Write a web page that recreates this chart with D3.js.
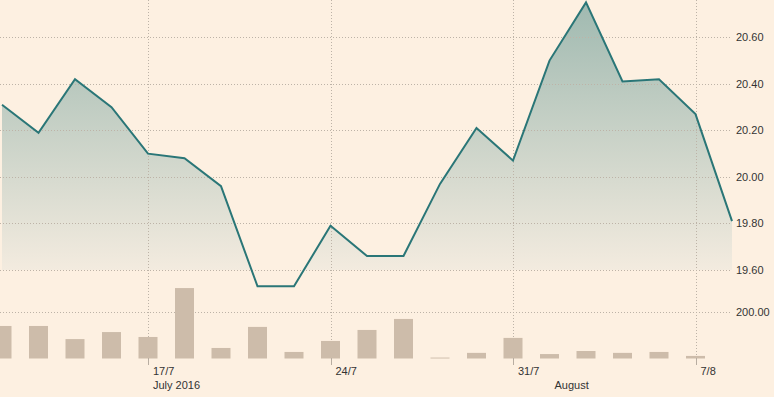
<!DOCTYPE html>
<html>
<head>
<meta charset="utf-8">
<script src="https://cdn.jsdelivr.net/npm/d3@7"></script>
<style>
  body { margin: 0; background: #fdf0e1; }
  svg { display: block; }
  text { font-family: "Liberation Sans", Arial, sans-serif; font-size: 11px; fill: #333; }
</style>
</head>
<body>
<svg id="chart" width="774" height="397"></svg>
<script>
// trading days (Sun-Thu)
var dates = ['11/7', '12/7', '13/7', '14/7', '17/7', '18/7', '19/7', '20/7', '21/7',
    '24/7', '25/7', '26/7', '27/7', '28/7', '31/7', '1/8', '2/8', '3/8', '4/8', '7/8', '8/8'];
var prices = [20.31, 20.19, 20.42, 20.30, 20.10, 20.08, 19.96, 19.53, 19.53,
    19.79, 19.66, 19.66, 19.97, 20.21, 20.07, 20.50, 20.75, 20.41, 20.42, 20.27, 19.81];
var volumes = [139, 139, 83, 113, 92, 301, 45, 135, 28, 75, 122, 169, 4, 24, 88, 19, 32, 24, 28, 11, 0];
var priceTicks = [19.6, 19.8, 20.0, 20.2, 20.4, 20.6];
var volumeTicks = [200];
var dateTicks = ['17/7', '24/7', '31/7', '7/8'];
var monthLabels = [{ date: '17/7', text: 'July 2016' }, { date: '1/8', text: 'August' }];

var width = 774, height = 397;
var plotRight = 732;
var priceBottom = 270;

var svg = d3.select('#chart');

var x = d3.scalePoint().domain(dates).range([2, plotRight]);
var y = d3.scaleLinear().domain([19.6, 20.6]).range([priceBottom, 37.3]);
var yVol = d3.scaleLinear().domain([0, 200]).range([358.5, 311.7]);

// gradient for area fill
var defs = svg.append('defs');
var grad = defs.append('linearGradient')
    .attr('id', 'areaGrad')
    .attr('gradientUnits', 'userSpaceOnUse')
    .attr('x1', 0).attr('x2', 0)
    .attr('y1', 0).attr('y2', priceBottom);
grad.append('stop').attr('offset', '0%').attr('stop-color', '#9fb9b0');
grad.append('stop').attr('offset', '100%').attr('stop-color', '#f3ebdf');

defs.append('clipPath')
    .attr('id', 'priceClip')
    .append('rect')
    .attr('x', 0).attr('y', 0)
    .attr('width', plotRight).attr('height', priceBottom);

var area = d3.area()
    .x(function(d, i) { return x(dates[i]); })
    .y0(priceBottom)
    .y1(function(d) { return y(d); });

svg.append('path')
    .datum(prices)
    .attr('d', area)
    .attr('clip-path', 'url(#priceClip)')
    .attr('fill', 'url(#areaGrad)');

// horizontal gridlines
svg.append('g').selectAll('line')
    .data(priceTicks)
    .join('line')
    .attr('x1', 0).attr('x2', plotRight)
    .attr('y1', d => Math.round(y(d)) + 0.5)
    .attr('y2', d => Math.round(y(d)) + 0.5)
    .attr('stroke', '#bdb3a7')
    .attr('stroke-dasharray', '1,2');
svg.append('g').selectAll('line')
    .data(volumeTicks)
    .join('line')
    .attr('x1', 0).attr('x2', plotRight)
    .attr('y1', d => Math.round(yVol(d)) + 0.5)
    .attr('y2', d => Math.round(yVol(d)) + 0.5)
    .attr('stroke', '#bdb3a7')
    .attr('stroke-dasharray', '1,2');

// vertical gridlines
svg.append('g').selectAll('line')
    .data(dateTicks)
    .join('line')
    .attr('x1', d => Math.round(x(d)) + 0.5)
    .attr('x2', d => Math.round(x(d)) + 0.5)
    .attr('y1', 0).attr('y2', 358)
    .attr('stroke', '#bdb3a7')
    .attr('stroke-dasharray', '1,2');

// volume bars
var barW = 19;
svg.append('g').selectAll('rect')
    .data(volumes)
    .join('rect')
    .attr('x', (d, i) => x(dates[i]) - barW / 2)
    .attr('y', d => yVol(d))
    .attr('width', barW)
    .attr('height', d => yVol(0) - yVol(d))
    .attr('fill', '#cdbcaa');

// price line
var line = d3.line()
    .x(function(d, i) { return x(dates[i]); })
    .y(function(d) { return y(d); });

svg.append('path')
    .datum(prices)
    .attr('d', line)
    .attr('fill', 'none')
    .attr('stroke', '#2a7677')
    .attr('stroke-width', 2)
    .attr('stroke-linejoin', 'miter');

// x ticks below baseline
svg.append('g').selectAll('line')
    .data(dateTicks)
    .join('line')
    .attr('x1', d => Math.round(x(d)) + 0.5)
    .attr('x2', d => Math.round(x(d)) + 0.5)
    .attr('y1', 358).attr('y2', 365)
    .attr('stroke', '#b8ada1');

svg.append('g').selectAll('text')
    .data(dateTicks)
    .join('text')
    .attr('x', d => x(d) + 5)
    .attr('y', 371)
    .attr('dy', '0.35em')
    .text(d => d);

svg.append('g').selectAll('text')
    .data(monthLabels)
    .join('text')
    .attr('x', d => x(d.date) + 5)
    .attr('y', 385)
    .attr('dy', '0.35em')
    .text(d => d.text);

// right axis labels
svg.append('g').selectAll('text')
    .data(priceTicks)
    .join('text')
    .attr('x', 736)
    .attr('y', d => y(d))
    .attr('dy', '0.35em')
    .text(d => d3.format('.2f')(d));

svg.append('g').selectAll('text')
    .data(volumeTicks)
    .join('text')
    .attr('x', 736)
    .attr('y', d => yVol(d))
    .attr('dy', '0.35em')
    .text(d => d3.format('.2f')(d));
</script>
</body>
</html>
